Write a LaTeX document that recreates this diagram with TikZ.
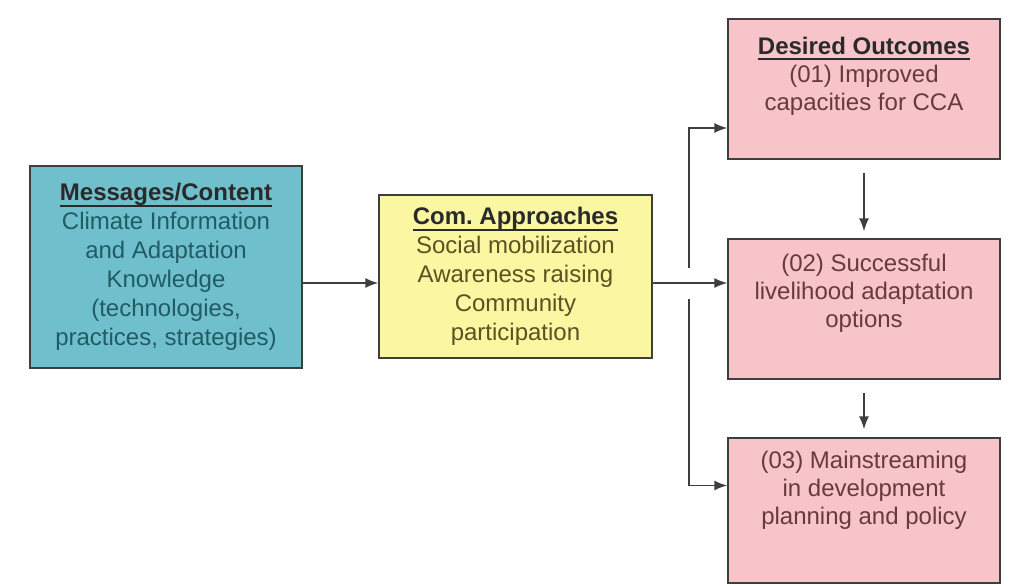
\documentclass[tikz,border=0pt]{standalone}
\usepackage{fontspec}
\setmainfont{Liberation Sans}
\usetikzlibrary{arrows.meta}

\definecolor{msgblue}{RGB}{112,191,204}
\definecolor{msgtext}{RGB}{32,92,102}
\definecolor{comyellow}{RGB}{250,246,162}
\definecolor{comtext}{RGB}{92,82,32}
\definecolor{outpink}{RGB}{246,196,201}
\definecolor{outtext}{RGB}{104,58,64}
\definecolor{headgray}{RGB}{42,42,42}
\definecolor{boxline}{RGB}{62,62,62}

\newcommand{\headline}[1]{\textcolor{headgray}{\setbox0\hbox{\textbf{#1}}%
  \rlap{\raisebox{-6pt}{\rule{\wd0}{2pt}}}\box0}}

\tikzset{
  box/.style={draw=boxline, line width=1.5pt, minimum width=272pt, inner sep=0pt,
    align=center, font=\fontsize{24}{29}\selectfont},
  boxtxt/.style={align=center, inner sep=0pt, font=\fontsize{24}{28}\selectfont},
  arr/.style={draw=boxline, line width=1.5pt, -{Latex[length=13pt,width=10pt]}},
}

\begin{document}
\begin{tikzpicture}[x=1pt,y=-1pt]
  \fill[white] (0,0) rectangle (1012,586);
  % boxes
  \node[box, fill=msgblue, text=msgtext, minimum height=202pt] (msg) at (166,267)
    {\headline{Messages/Content}\\Climate Information\\and Adaptation\\Knowledge\\(technologies,\\practices, strategies)};
  \node[box, fill=comyellow, text=comtext, minimum width=273pt, minimum height=163pt] (com) at (515.5,276.5)
    {\headline{Com.\ Approaches}\\Social mobilization\\Awareness raising\\Community\\participation};
  \node[box, fill=outpink, minimum height=140pt] (o1) at (864,89) {};
  \node[box, fill=outpink, minimum height=140pt] (o2) at (864,309) {};
  \node[box, fill=outpink, minimum height=145pt] (o3) at (864,510.5) {};
  \node[boxtxt, text=outtext] (o1txt) at ([yshift=13pt]o1.center)
    {\headline{Desired Outcomes}\\(01) Improved\\capacities for CCA};
  \node[boxtxt, text=outtext] (o2txt) at ([yshift=16pt]o2.center)
    {(02) Successful\\livelihood adaptation\\options};
  \node[boxtxt, text=outtext] (o3txt) at ([yshift=20pt]o3.center)
    {(03) Mainstreaming\\in development\\planning and policy};
  % connectors
  \coordinate (split) at (689,283);
  \coordinate (gaptop) at (689,268);
  \coordinate (gapbot) at (689,299);
  \draw[arr] (msg.east |- split) -- (com.west |- split);
  \draw[arr] (com.east |- split) -- (o2.west |- split);
  \draw[arr] (gaptop) |- ([yshift=-39pt]o1.west);
  \draw[arr] (gapbot) |- ([yshift=25pt]o3.west);
  \draw[arr, shorten <=13pt, shorten >=7pt] (o1) -- (o2);
  \draw[arr, shorten <=13pt, shorten >=8pt] (o2) -- (o3);
\end{tikzpicture}
\end{document}
